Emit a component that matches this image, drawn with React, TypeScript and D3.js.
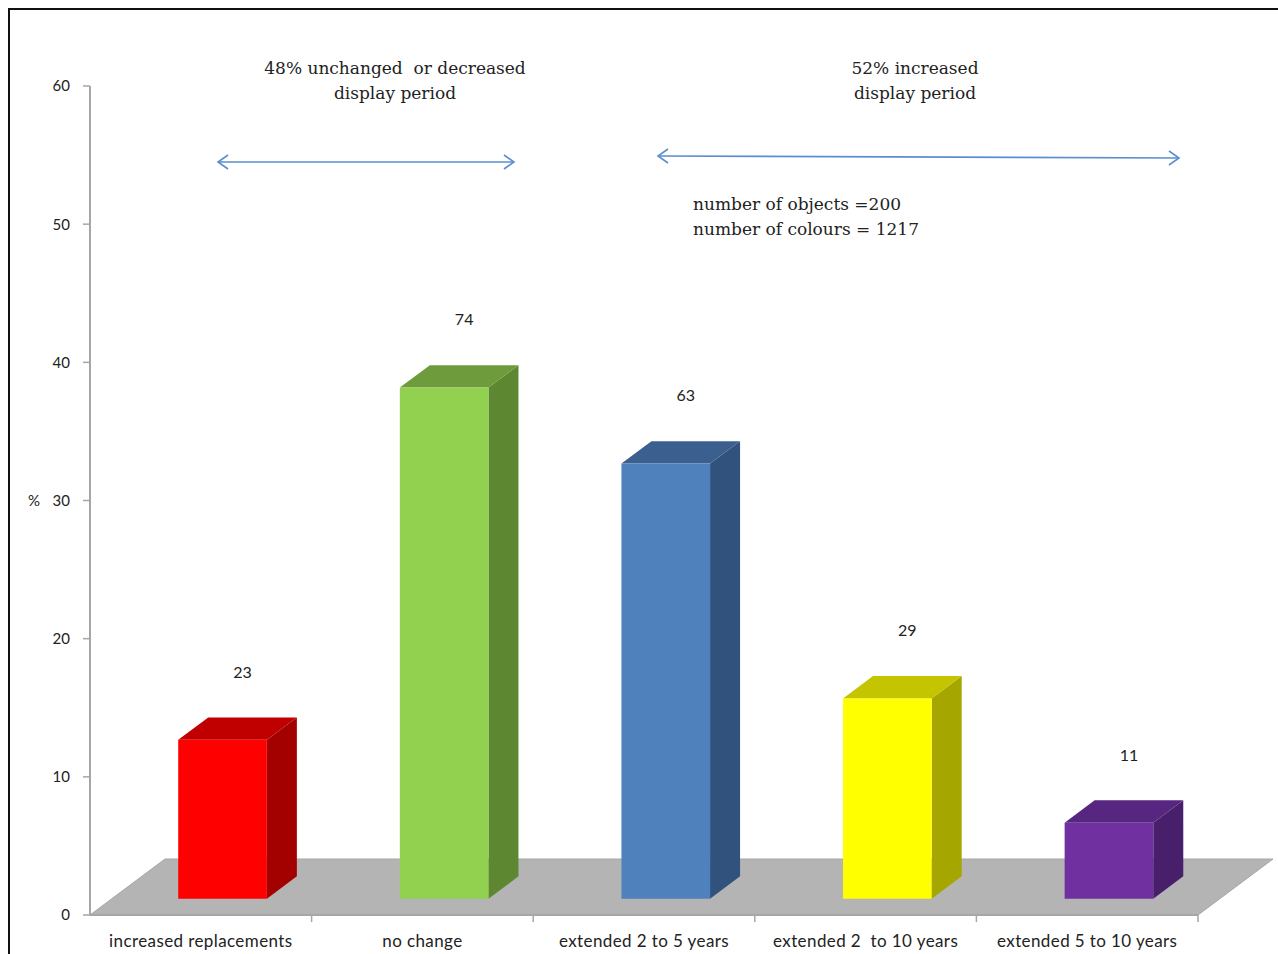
import React from "react";
import * as d3 from "d3";

// Objects per display-period outcome (n = 200); bars show the share in %.
const categories = [
  "increased replacements",
  "no change",
  "extended 2 to 5 years",
  "extended 2  to 10 years",
  "extended 5 to 10 years",
];
const counts = [23, 74, 63, 29, 11];
const totalObjects = 200;
const totalColours = 1217;
const yTicks = [0, 10, 20, 30, 40, 50, 60];

// Face colours for each bar: front, top, side.
const frontColors = ["#ff0000", "#92d050", "#4f81bd", "#ffff00", "#7030a0"];
const topColors = ["#c00000", "#6e9b3b", "#3b6090", "#c4c400", "#572681"];
const sideColors = ["#a30000", "#5e8731", "#30527c", "#a6a600", "#481f6a"];

const W = 1278;
const H = 954;

// Oblique projection of the depth axis (full floor depth).
const DEPTH_X = 75;
const DEPTH_Y = -56;
const BAR_FRONT = 0.29; // bar front plane as a fraction of floor depth
const BAR_BACK = 0.69;

const serif = "'DejaVu Serif', serif";
const sans = "Lato, 'Open Sans', sans-serif";

export default function App() {
  const x = d3
    .scaleBand<string>()
    .domain(categories)
    .range([90, 1198])
    .paddingInner(0.6)
    .paddingOuter(0.3);
  const y = d3.scaleLinear().domain([0, 60]).range([915, 86]);
  const step = x.step();
  const bw = x.bandwidth();

  const fx = DEPTH_X * BAR_FRONT;
  const fy = DEPTH_Y * BAR_FRONT;
  const dx = DEPTH_X * (BAR_BACK - BAR_FRONT);
  const dy = DEPTH_Y * (BAR_BACK - BAR_FRONT);

  const x0 = x.range()[0];
  const x1 = x.range()[1];
  const yBase = y(0);

  const floor = [
    [x0, yBase],
    [x1, yBase],
    [x1 + DEPTH_X, yBase + DEPTH_Y],
    [x0 + DEPTH_X, yBase + DEPTH_Y],
  ];
  const line = d3.line();

  const arrowColor = "#5b8ed0";

  return (
    <svg
      width={W}
      height={H}
      style={{ position: "absolute", left: 0, top: 0, background: "#fff" }}
    >
      {/* frame */}
      <line x1={8} y1={9} x2={W} y2={9} stroke="#111" strokeWidth={2} />
      <line x1={9} y1={8} x2={9} y2={H} stroke="#111" strokeWidth={2} />

      {/* floor */}
      <path d={line(floor as [number, number][]) + "Z"} fill="#b4b4b4" stroke="#a6a6a6" strokeWidth={1} />

      {/* y axis */}
      <line x1={x0} y1={y(60)} x2={x0} y2={yBase} stroke="#a6a6a6" strokeWidth={2} />
      {yTicks.map((t) => (
        <g key={t}>
          <line x1={x0 - 7} x2={x0} y1={y(t)} y2={y(t)} stroke="#a6a6a6" strokeWidth={1.5} />
          <text
            x={x0 - 20}
            y={y(t)}
            dy="0.36em"
            textAnchor="end"
            fontFamily={sans}
            fontSize={15}
            fill="#222"
          >
            {t}
          </text>
        </g>
      ))}
      <text x={34} y={y(30)} dy="0.36em" textAnchor="middle" fontFamily={sans} fontSize={15} fill="#222">
        %
      </text>

      {/* x axis */}
      <line x1={x0} y1={yBase} x2={x1} y2={yBase} stroke="#a6a6a6" strokeWidth={2} />
      {categories.map((c, i) => {
        const tx = x0 + step * (i + 1);
        return <line key={c} x1={tx} x2={tx} y1={yBase} y2={yBase + 7} stroke="#a6a6a6" strokeWidth={1.5} />;
      })}
      {categories.map((c) => (
        <text
          key={c}
          x={(x(c) ?? 0) + bw / 2}
          y={yBase + 26}
          dy="0.36em"
          textAnchor="middle"
          fontFamily={sans}
          fontSize={17}
          letterSpacing={0.4}
          fill="#222"
          style={{ whiteSpace: "pre" }}
        >
          {c}
        </text>
      ))}

      {/* 3D bars */}
      {categories.map((c, i) => {
        const pct = (counts[i] / totalObjects) * 100;
        const left = (x(c) ?? 0) + fx;
        const right = left + bw;
        const top = y(pct) + fy;
        const bottom = yBase + fy;
        const front: [number, number][] = [
          [left, top],
          [right, top],
          [right, bottom],
          [left, bottom],
        ];
        const topFace: [number, number][] = [
          [left, top],
          [left + dx, top + dy],
          [right + dx, top + dy],
          [right, top],
        ];
        const side: [number, number][] = [
          [right, top],
          [right + dx, top + dy],
          [right + dx, bottom + dy],
          [right, bottom],
        ];
        return (
          <g key={c}>
            <path d={line(side) + "Z"} fill={sideColors[i]} />
            <path d={line(topFace) + "Z"} fill={topColors[i]} />
            <path d={line(front) + "Z"} fill={frontColors[i]} />
            <text
              x={left + bw / 2 + 20}
              y={top - 68}
              dy="0.36em"
              textAnchor="middle"
              fontFamily={sans}
              fontSize={16}
              fill="#222"
            >
              {counts[i]}
            </text>
          </g>
        );
      })}

      {/* period annotations */}
      <g fontFamily={serif} fontSize={17} fill="#222" textAnchor="middle">
        <text x={395} y={68} dy="0.36em" style={{ whiteSpace: "pre" }}>
          48% unchanged  or decreased
        </text>
        <text x={395} y={93} dy="0.36em">display period</text>
        <text x={915} y={68} dy="0.36em">52% increased</text>
        <text x={915} y={93} dy="0.36em">display period</text>
      </g>
      <g fontFamily={serif} fontSize={17} fill="#222">
        <text x={693} y={204} dy="0.36em">number of objects ={totalObjects}</text>
        <text x={693} y={229} dy="0.36em">number of colours = {totalColours}</text>
      </g>

      {/* double-headed arrows */}
      <g stroke={arrowColor} strokeWidth={1.6} fill="none">
        <line x1={218} y1={162} x2={514} y2={162} />
        <polyline points="228,155 218,162 228,169" />
        <polyline points="504,155 514,162 504,169" />
        <line x1={658} y1={156} x2={1179} y2={158} />
        <polyline points="668,149 658,156 668,163" />
        <polyline points="1169,151 1179,158 1169,165" />
      </g>
    </svg>
  );
}
